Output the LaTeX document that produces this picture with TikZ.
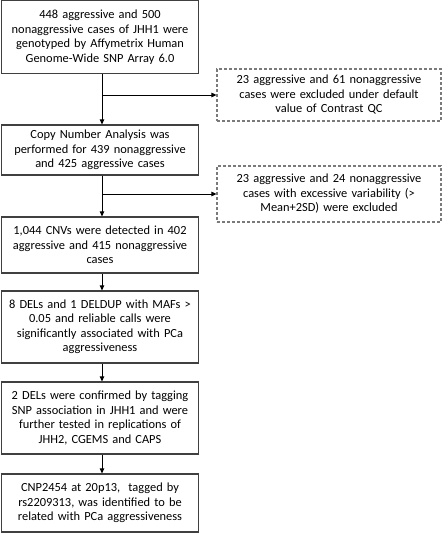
\documentclass[tikz,border=0pt]{standalone}
\usepackage{fontspec}
\setmainfont{Carlito}
\usetikzlibrary{arrows.meta}
\definecolor{boxline}{HTML}{404040}
\definecolor{dashline}{HTML}{7A7A7A}
\begin{document}
\begin{tikzpicture}[x=1pt,y=-1pt,
  flowbox/.style={draw=boxline,line width=1.2pt,minimum width=197pt,text width=195pt,align=center,inner sep=0pt,font=\fontsize{12.4}{14.5}\selectfont},
  notebox/.style={draw=dashline,line width=1.1pt,dash pattern=on 3pt off 2pt,minimum width=224pt,text width=220pt,align=center,inner sep=0pt,font=\fontsize{12.4}{14.5}\selectfont},
  arr/.style={draw=black,line width=0.8pt,-{Triangle[length=5pt,width=4.5pt]}}]
\useasboundingbox (0,0) rectangle (443,533);
\node[flowbox,minimum height=73pt] (b1) at (100,37) {448 aggressive and 500\\nonaggressive cases of JHH1 were\\genotyped by Affymetrix Human\\Genome-Wide SNP Array 6.0};
\node[flowbox,minimum height=50pt] (b2) at (100,150) {Copy Number Analysis was\\performed for 439 nonaggressive\\and 425 aggressive cases};
\node[flowbox,minimum height=56pt] (b3) at (100,245) {1,044 CNVs were detected in 402\\aggressive and 415 nonaggressive\\cases};
\node[flowbox,minimum height=72pt] (b4) at (100,327) {8 DELs and 1 DELDUP with MAFs >\\0.05 and reliable calls were\\significantly associated with PCa\\aggressiveness};
\node[flowbox,minimum height=72pt] (b5) at (100,418) {2 DELs were confirmed by tagging\\SNP association in JHH1 and were\\further tested in replications of\\JHH2, CGEMS and CAPS};
\node[flowbox,minimum height=58pt] (b6) at (100,503) {CNP2454 at 20p13,~ tagged by\\rs2209313, was identified to be\\related with PCa aggressiveness};
\node[notebox,minimum height=52pt] (d1) at (329,95) {23 aggressive and 61 nonaggressive\\cases were excluded under default\\value of Contrast QC};
\node[notebox,minimum height=56pt] (d2) at (329,194) {23 aggressive and 24 nonaggressive\\cases with excessive variability (>\\Mean+2SD) were excluded};
\coordinate (ax) at (102,0);
\draw[arr] (b1.south -| ax) -- (b2.north -| ax);
\draw[arr] (b2.south -| ax) -- (b3.north -| ax);
\draw[arr] (b3.south -| ax) -- (b4.north -| ax);
\draw[arr] (b4.south -| ax) -- (b5.north -| ax);
\draw[arr] (b5.south -| ax) -- (b6.north -| ax);
\draw[arr] (ax |- d1.west) -- (d1.west);
\draw[arr] (ax |- d2.west) -- (d2.west);
\end{tikzpicture}
\end{document}
